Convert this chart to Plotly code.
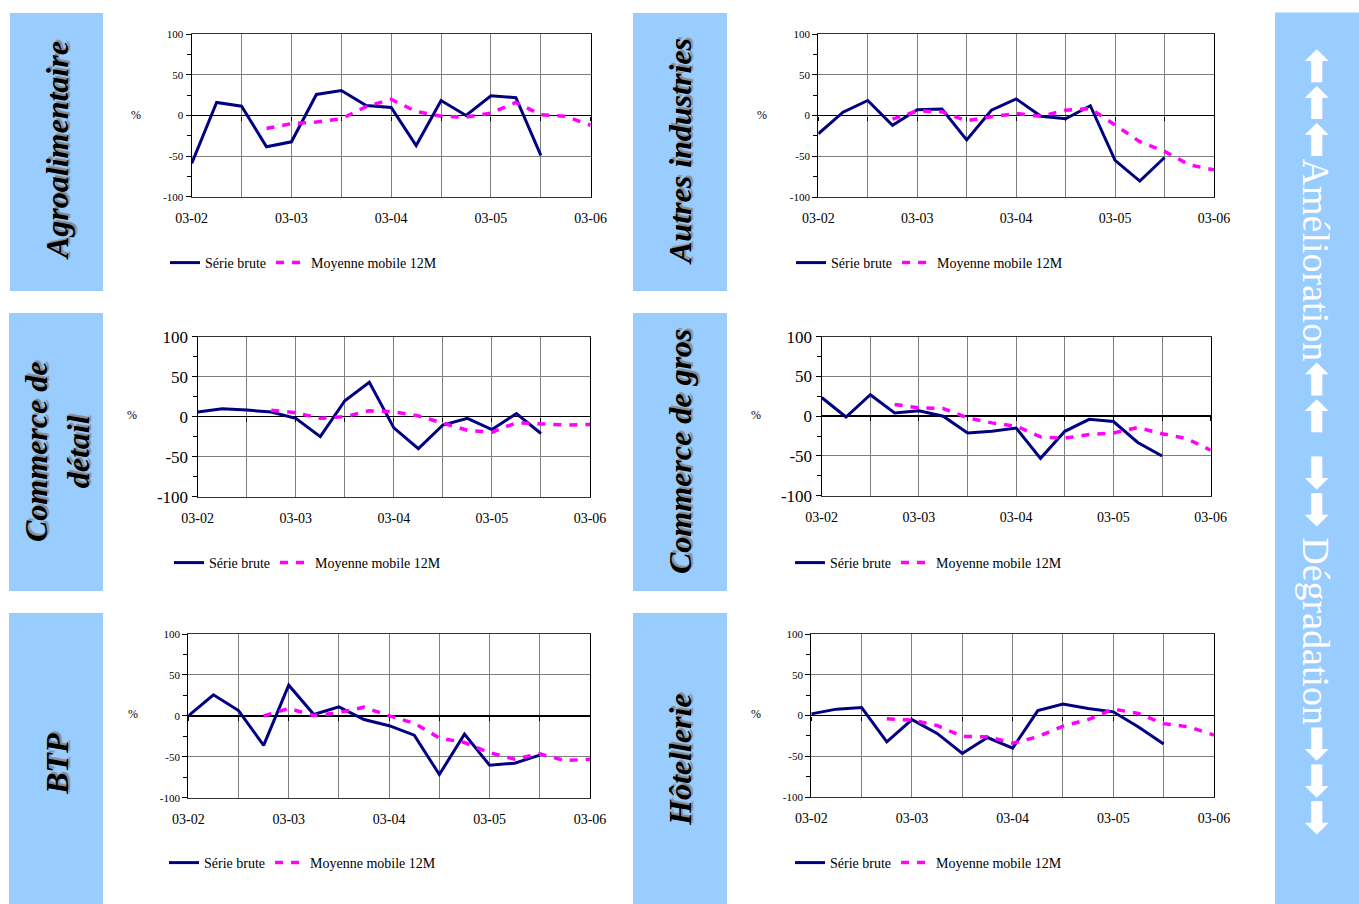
import plotly.graph_objects as go

W, H = 1359, 904

# ---------------- data ----------------
x_index = list(range(17))            # quarterly positions, 03-02 .. 03-06
tick_labels = ["03-02", "03-03", "03-04", "03-05", "03-06"]
y_tick_vals = [-100, -50, 0, 50, 100]
y_tick_text = ["-100", "-50", "0", "50", "100"]

sectors = ["Agroalimentaire", "Autres industries", "Commerce de<br>détail",
           "Commerce de gros", "BTP", "Hôtellerie"]

agro_brute = [-59, 16, 11.5, -38.6, -32.4, 25.9, 30.8, 12.3, 9.9, -37, 18.5, 0, 24.2, 22, -49]
agro_mm = [None, None, None, -16, -10, -8, -4, 11, 20, 5, -1, -2, 3, 16, 1, -1, -12]

autres_brute = [-22.5, 4, 18.4, -12, 7, 8, -30, 6.5, 20.4, -1, -4, 12, -55, -80.5, -51.5]
autres_mm = [None, None, None, -4.5, 5.7, 4.5, -6.5, -1.6, 2.5, -1, 6.5, 8.6, -11.5, -32, -44, -60.5, -66.7]

detail_brute = [5.8, 10, 8.3, 5.8, -2, -25, 20, 43, -14, -40, -10.4, -2, -16, 4, -21]
detail_mm = [None, None, None, 8, 5, -2, 0, 7.5, 6, 1, -8, -17, -19.5, -7.5, -9, -10.4, -9.6]

gros_brute = [23.5, -1, 27, 4, 6.7, 0, -21, -19, -15, -53, -19, -4, -6.7, -33, -50]
gros_mm = [None, None, None, 14.7, 10.5, 9.6, -2, -8.4, -12.6, -26, -27.7, -23, -21, -14.3, -22, -28, -42.8]

btp_brute = [0, 25.7, 6.5, -36, 37.5, 1.6, 11, -4.5, -12, -23.6, -71.7, -22.4, -60.3, -57.8, -48]
btp_mm = [None, None, None, 0, 9, 0.4, 4, 10.6, 0, -9, -27, -32.6, -45, -53, -46.4, -54.6, -53]

hotel_brute = [2, 7.8, 9.8, -32.3, -5, -22, -46.6, -27, -40, 6, 14, 8.6, 4.5, -14, -35]
hotel_mm = [None, None, None, -4, -5.7, -12.3, -25.8, -26, -34, -26, -13, -5, 7.8, 2.5, -10, -14, -24]

brute_series = [agro_brute, autres_brute, detail_brute, gros_brute, btp_brute, hotel_brute]
mm_series = [agro_mm, autres_mm, detail_mm, gros_mm, btp_mm, hotel_mm]

# ---------------- layout geometry (pixels) ----------------
panels = [  # x0, x1, y0(top), y1(bottom)
    (191.7, 590.7, 34.3, 196.7),
    (818.3, 1214.0, 34.0, 197.0),
    (197.7, 590.0, 336.7, 496.7),
    (821.7, 1210.7, 336.7, 495.7),
    (188.3, 590.0, 634.0, 797.7),
    (811.3, 1214.0, 634.0, 797.0),
]
ytick_sizes = [11, 11, 17, 17, 11, 11]
legend_pos = [(165, 263), (791, 263), (169, 563), (790, 563), (164, 863), (790, 863)]
pct_pos = [(136, 115), (762, 115), (132, 415), (756, 415), (133, 714), (756, 714)]
boxes = [(10, 103, 13, 291), (633, 727, 13, 291),
         (9, 103, 313, 591), (633, 727, 313, 591),
         (9, 103, 613, 904), (633, 727, 613, 904)]
label_pos = [(57, 151), (680, 152), (57, 452), (680, 452), (57, 764), (680, 760)]

def fx(px):
    return px / W

def fy(py):
    return 1 - py / H

SERIF = "Liberation Serif, Times New Roman, serif"
fig = go.Figure()

grid_vals = list(range(0, 17, 2))
grid_text = [tick_labels[v // 4] if v % 4 == 0 else "" for v in grid_vals]

for i in range(6):
    n = i + 1
    ov = n + 6
    xa = "x" if n == 1 else f"x{n}"
    ya = "y" if n == 1 else f"y{n}"
    xo = f"x{ov}"
    lg = "legend" if n == 1 else f"legend{n}"
    x0, x1, y0, y1 = panels[i]

    fig.add_trace(go.Scatter(
        x=x_index[:len(brute_series[i])], y=brute_series[i], mode="lines",
        name="Série brute", line=dict(color="#000080", width=3),
        xaxis=xa, yaxis=ya, legend=lg, connectgaps=False, hoverinfo="skip"))
    fig.add_trace(go.Scatter(
        x=x_index, y=mm_series[i], mode="lines",
        name="Moyenne mobile 12M",
        line=dict(color="#FF00FF", width=3.5, dash="8px,8px"),
        xaxis=xo, yaxis=ya, legend=lg, connectgaps=False, hoverinfo="skip"))

    dom_x = [fx(x0), fx(x1)]
    dom_y = [fy(y1), fy(y0)]
    fig.layout[f"xaxis{n}" if n > 1 else "xaxis"] = dict(
        domain=dom_x, anchor=ya, range=[0, 16],
        tickmode="array", tickvals=grid_vals, ticktext=grid_text,
        ticks="", showgrid=True, gridcolor="#7f7f7f", gridwidth=1,
        showline=True, linecolor="#333333", linewidth=1, mirror=True,
        zeroline=False, automargin=False, ticklabelstandoff=8,
        tickfont=dict(family=SERIF, size=14, color="black"))
    fig.layout[f"yaxis{n}" if n > 1 else "yaxis"] = dict(
        domain=dom_y, anchor=xa, range=[-100, 100],
        tickmode="array", tickvals=y_tick_vals, ticktext=y_tick_text,
        ticks="outside", ticklen=5, tickcolor="black",
        minor=dict(tickmode="array", tickvals=[-75, -25, 25, 75],
                   ticks="outside", ticklen=4, tickcolor="black", showgrid=False),
        showgrid=True, gridcolor="#7f7f7f", gridwidth=1,
        zeroline=True, zerolinecolor="black", zerolinewidth=1.5,
        showline=True, linecolor="black", linewidth=1.2, mirror=True,
        automargin=False,
        tickfont=dict(family=SERIF, size=ytick_sizes[i], color="black"))
    fig.layout[f"xaxis{ov}"] = dict(
        overlaying=xa, anchor="free", position=(dom_y[0] + dom_y[1]) / 2,
        domain=dom_x, range=[0, 16], tickmode="array", tickvals=grid_vals,
        ticks="outside", ticklen=4, tickcolor="black", showticklabels=False,
        showgrid=False, showline=False, zeroline=False, automargin=False)

    lx, ly = legend_pos[i]
    fig.layout[lg] = dict(
        x=fx(lx), y=fy(ly), xanchor="left", yanchor="middle",
        orientation="h", bgcolor="rgba(0,0,0,0)", borderwidth=0,
        font=dict(family=SERIF, size=14, color="black"),
        itemwidth=30, tracegroupgap=0)

    px_, py_ = pct_pos[i]
    fig.add_annotation(x=fx(px_), y=fy(py_), xref="paper", yref="paper",
                       xanchor="center", yanchor="middle",
                       text="%", showarrow=False,
                       font=dict(family=SERIF, size=12, color="black"))

    bx0, bx1, by0, by1 = boxes[i]
    fig.add_shape(type="rect", xref="paper", yref="paper",
                  x0=fx(bx0), x1=fx(bx1), y0=fy(by1), y1=fy(by0),
                  fillcolor="#99CCFF", line=dict(width=0), layer="below")

    tx, ty = label_pos[i]
    fig.add_annotation(x=fx(tx), y=fy(ty), xref="paper", yref="paper",
                       xanchor="center", yanchor="middle",
                       text=f"<b><i>{sectors[i]}</i></b>", showarrow=False,
                       textangle=-90, align="center",
                       font=dict(family=SERIF, size=32, color="black",
                                 shadow="2px 2px 1px #8a8a8a"))

# right-hand bar
fig.add_shape(type="rect", xref="paper", yref="paper",
              x0=fx(1275), x1=fx(1359), y0=fy(904), y1=fy(12.5),
              fillcolor="#99CCFF", line=dict(width=0), layer="below")
AR = '<span style="font-family:DejaVu Sans;font-size:44px;font-weight:bold">{}</span>'
up3 = AR.format("⬅⬅⬅")
up2 = AR.format("⬅⬅")
dn2 = AR.format("➡➡")
dn3 = AR.format("➡➡➡")
fig.add_annotation(
    x=fx(1318), y=fy(442), xref="paper", yref="paper", showarrow=False,
    xanchor="center", yanchor="middle", textangle=90,
    text=f"{up3}Amélioration{up2}  {dn2} Dégradation{dn3}",
    font=dict(family=SERIF, size=38, color="white"))

fig.update_layout(
    width=W, height=H,
    margin=dict(l=0, r=0, t=0, b=0, pad=0, autoexpand=False),
    paper_bgcolor="white", plot_bgcolor="white",
    showlegend=True, hovermode=False)

fig.write_html(
    "out.html",
    config={"displayModeBar": False, "staticPlot": True},
    post_script="document.documentElement.style.margin='0';"
                "document.body.style.margin='0';"
                "document.body.style.overflow='hidden';"
                "document.documentElement.style.overflow='hidden';")
